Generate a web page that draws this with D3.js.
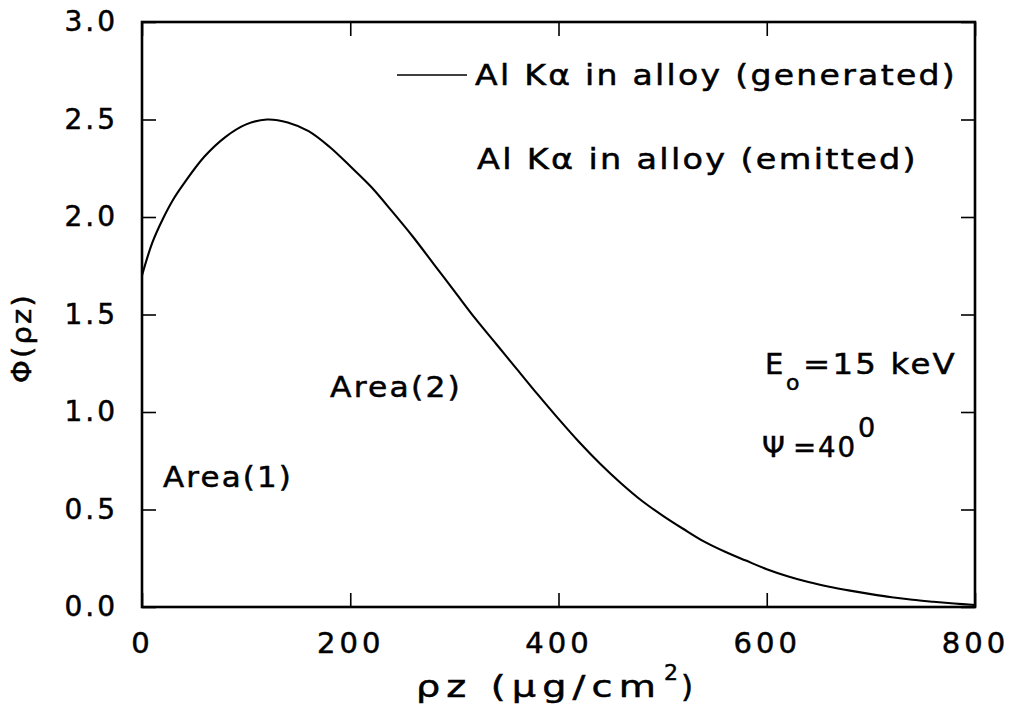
<!DOCTYPE html>
<html>
<head>
<meta charset="utf-8">
<script src="https://cdn.jsdelivr.net/npm/d3@7"></script>
<style>
  body { margin: 0; background: #fff; }
  text { font-family: "DejaVu Sans", sans-serif; fill: #000; stroke: #000; stroke-width: 0.5px; }
</style>
</head>
<body>
<svg id="chart" width="1015" height="708"></svg>
<script>
// Depth (µg/cm²) and φ(ρz) for Al Kα in the alloy
const depth = [0, 10, 20, 30, 40, 60, 80, 100, 120, 140, 160, 180, 200, 220, 240, 260, 280,
  300, 320, 340, 360, 380, 400, 420, 440, 460, 480, 500, 520, 540, 560, 580, 600,
  620, 640, 660, 680, 700, 720, 740, 760, 780, 800];
const phi = [1.70, 1.87, 1.99, 2.09, 2.17, 2.31, 2.41, 2.475, 2.50, 2.485, 2.44, 2.36, 2.26,
  2.155, 2.03, 1.90, 1.76, 1.62, 1.48, 1.35, 1.22, 1.09, 0.965, 0.845, 0.735,
  0.635, 0.545, 0.469, 0.40, 0.335, 0.283, 0.238, 0.194, 0.158, 0.128, 0.104,
  0.084, 0.066, 0.05, 0.037, 0.027, 0.018, 0.01];

const xTicks = [0, 200, 400, 600, 800];
const xTickLabels = ["0", "200", "400", "600", "800"];
const yTicks = [0, 0.5, 1.0, 1.5, 2.0, 2.5, 3.0];
const yTickLabels = ["0.0", "0.5", "1.0", "1.5", "2.0", "2.5", "3.0"];

const legendLabels = ["Al Kα in alloy (generated)", "Al Kα in alloy (emitted)"];
const areaLabels = ["Area(1)", "Area(2)"];

const svg = d3.select("#chart");
const plotLeft = 142, plotRight = 975, plotTop = 22, plotBottom = 607;

const x = d3.scaleLinear().domain([0, 800]).range([plotLeft, plotRight]);
const y = d3.scaleLinear().domain([0, 3]).range([plotBottom, plotTop]);

const tickLen = 14;

// Ticks on all four sides, pointing inward
function styleAxis(g) {
  g.select(".domain").remove();
  g.selectAll(".tick line").attr("stroke", "#000").attr("stroke-width", 1.6);
}

svg.append("g").attr("transform", `translate(0,${plotBottom})`)
  .call(d3.axisBottom(x).tickValues(xTicks)
    .tickFormat((d, i) => xTickLabels[i])
    .tickSizeInner(-tickLen).tickSizeOuter(0).tickPadding(25))
  .call(styleAxis)
  .call(g => g.selectAll("text").attr("font-size", 29).attr("letter-spacing", 4)
    .attr("font-family", "DejaVu Sans").attr("fill", "#000"));

svg.append("g").attr("transform", `translate(0,${plotTop})`)
  .call(d3.axisTop(x).tickValues(xTicks).tickFormat("")
    .tickSizeInner(-tickLen).tickSizeOuter(0))
  .call(styleAxis);

svg.append("g").attr("transform", `translate(${plotLeft},0)`)
  .call(d3.axisLeft(y).tickValues(yTicks)
    .tickFormat((d, i) => yTickLabels[i])
    .tickSizeInner(-tickLen).tickSizeOuter(0).tickPadding(24))
  .call(styleAxis)
  .call(g => g.selectAll("text").attr("font-size", 28).attr("letter-spacing", 3)
    .attr("font-family", "DejaVu Sans").attr("fill", "#000"));

svg.append("g").attr("transform", `translate(${plotRight},0)`)
  .call(d3.axisRight(y).tickValues(yTicks).tickFormat("")
    .tickSizeInner(-tickLen).tickSizeOuter(0))
  .call(styleAxis);

// Frame
svg.append("rect")
  .attr("x", plotLeft).attr("y", plotTop)
  .attr("width", plotRight - plotLeft).attr("height", plotBottom - plotTop)
  .attr("fill", "none").attr("stroke", "#000").attr("stroke-width", 2.6);

// φ(ρz) curve
const line = d3.line().curve(d3.curveCatmullRom)
  .x((d, i) => x(depth[i])).y(d => y(d));
svg.append("path").datum(phi)
  .attr("d", line)
  .attr("fill", "none").attr("stroke", "#000").attr("stroke-width", 2.1);

// Text placed to a fixed width, glyphs widened slightly
function label(px, py, size, width, str) {
  return svg.append("text").attr("x", px).attr("y", py).attr("font-size", size)
    .attr("letter-spacing", 2)
    .attr("textLength", width).attr("lengthAdjust", "spacingAndGlyphs").text(str);
}

// Legend
svg.append("line").attr("x1", 397).attr("x2", 467).attr("y1", 75).attr("y2", 75)
  .attr("stroke", "#000").attr("stroke-width", 1.6);
label(475, 85, 29, 482, legendLabels[0]);
label(477, 169, 29, 441, legendLabels[1]);

// Area annotations
label(163, 487, 29, 130, areaLabels[0]);
label(330, 397, 29, 132, areaLabels[1]);

// Beam energy and take-off angle
svg.append("text").attr("x", 765).attr("y", 374).attr("font-size", 29).text("E");
svg.append("text").attr("x", 786).attr("y", 390).attr("font-size", 22).text("o");
label(803, 374, 29, 154, "=15 keV");
svg.append("text").attr("x", 762).attr("y", 457).attr("font-size", 29).text("Ψ");
label(793, 457, 29, 64, "=40");
svg.append("text").attr("x", 858).attr("y", 437).attr("font-size", 27).text("0");

// Axis titles
svg.append("text").attr("x", 416).attr("y", 697).attr("font-size", 31)
  .attr("letter-spacing", 5)
  .attr("textLength", 246).attr("lengthAdjust", "spacingAndGlyphs").text("ρz (µg/cm");
svg.append("text").attr("x", 664).attr("y", 680).attr("font-size", 22).text("2");
svg.append("text").attr("x", 681).attr("y", 697).attr("font-size", 31).text(")");

svg.append("text")
  .attr("transform", "translate(31,338) rotate(-90)")
  .attr("text-anchor", "middle").attr("font-size", 26)
  .attr("letter-spacing", 2)
  .attr("textLength", 90).attr("lengthAdjust", "spacingAndGlyphs")
  .text("Φ(ρz)");
</script>
</body>
</html>
